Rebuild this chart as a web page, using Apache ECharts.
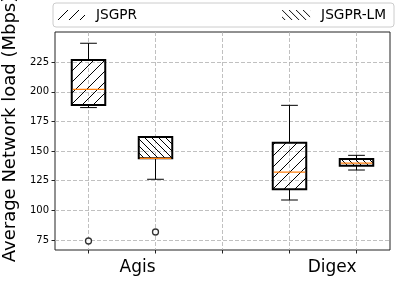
<!DOCTYPE html>
<html><head><meta charset="utf-8">
<script src="https://cdn.jsdelivr.net/npm/echarts@6/dist/echarts.min.js"></script>
<style>html,body{margin:0;padding:0;background:#fff}#c{width:400px;height:283px}</style>
</head><body><div id="c"></div>
<script>
const categories = ['Agis', 'Digex'];
const seriesNames = ['JSGPR', 'JSGPR-LM'];
// box statistics per category: [min, q1, median, q3, max]
const jsgprStats = [[186.7, 188.9, 202.1, 226.9, 241.0], [108.7, 117.7, 132.3, 157.1, 188.6]];
const lmStats = [[126.2, 143.9, 143.9, 161.8, 161.8], [134.0, 137.7, 139.9, 143.3, 146.4]];
// outliers per category
const jsgprOutliers = [[74.1], []];
const lmOutliers = [[81.7], []];
const yTicks = [75, 100, 125, 150, 175, 200, 225];
const xTicks = [1, 2, 3, 4, 5];

const FONT = 'DejaVu Sans';

function hatch(size, dir) {
  const c = document.createElement('canvas');
  c.width = size; c.height = size;
  const g = c.getContext('2d');
  g.strokeStyle = '#000'; g.lineWidth = 1;
  g.beginPath();
  if (dir > 0) {
    g.moveTo(0, size); g.lineTo(size, 0);
    g.moveTo(-1, 1); g.lineTo(1, -1);
    g.moveTo(size - 1, size + 1); g.lineTo(size + 1, size - 1);
  } else {
    g.moveTo(0, 0); g.lineTo(size, size);
    g.moveTo(-1, size - 1); g.lineTo(1, size + 1);
    g.moveTo(size - 1, -1); g.lineTo(size + 1, 1);
  }
  g.stroke();
  return { image: c, repeat: 'repeat' };
}
const patterns = [hatch(11, 1), hatch(7, -1)];

// x position for group i, series s
function xPos(i, s) { return 1 + 3 * i + s; }

function boxData(stats, s) { return stats.map((st, i) => [xPos(i, s)].concat(st)); }
function outlierData(outs, s) {
  const r = [];
  outs.forEach((arr, i) => arr.forEach(v => r.push([xPos(i, s), v])));
  return r;
}

function makeRender(pattern) {
  return function (params, api) {
    const x = api.value(0);
    const pMin = api.coord([x, api.value(1)]);
    const pQ1 = api.coord([x, api.value(2)]);
    const pMd = api.coord([x, api.value(3)]);
    const pQ3 = api.coord([x, api.value(4)]);
    const pMax = api.coord([x, api.value(5)]);
    const w = api.size([0.5, 0])[0];
    const cx = pMin[0];
    const ls = { stroke: '#000', lineWidth: 1 };
    return {
      type: 'group',
      children: [
        { type: 'line', shape: { x1: cx, y1: pMin[1], x2: cx, y2: pQ1[1] }, style: ls },
        { type: 'line', shape: { x1: cx, y1: pQ3[1], x2: cx, y2: pMax[1] }, style: ls },
        { type: 'line', shape: { x1: cx - w / 4, y1: pMin[1], x2: cx + w / 4, y2: pMin[1] }, style: ls },
        { type: 'line', shape: { x1: cx - w / 4, y1: pMax[1], x2: cx + w / 4, y2: pMax[1] }, style: ls },
        { type: 'rect', shape: { x: cx - w / 2, y: pQ3[1], width: w, height: pQ1[1] - pQ3[1] },
          style: { fill: pattern, stroke: '#000', lineWidth: 2 } },
        { type: 'line', shape: { x1: cx - w / 2 + 1, y1: pMd[1], x2: cx + w / 2 - 1, y2: pMd[1] },
          style: { stroke: '#ff7f0e', lineWidth: 1.2 } }
      ]
    };
  };
}

const chart = echarts.init(document.getElementById('c'), null, { renderer: 'canvas' });
chart.setOption({
  animation: false,
  backgroundColor: '#fff',
  grid: { left: 55, right: 10, top: 32, bottom: 33, show: true, borderColor: '#222', borderWidth: 1,
          containLabel: false, outerBoundsMode: 'none' },
  legend: {
    left: 53, top: 3, padding: [5, 8, 5, 4], itemGap: 145, itemWidth: 28, itemHeight: 10,
    borderColor: '#ccc', borderWidth: 1, borderRadius: 3, selectedMode: false,
    textStyle: { fontFamily: FONT, fontSize: 13.7, color: '#000', padding: [2, 0, 0, 6] },
    data: seriesNames.map((n, k) => ({ name: n, icon: 'rect', itemStyle: { color: patterns[k], borderWidth: 0 } }))
  },
  xAxis: {
    type: 'value', min: 0.5, max: 5.5,
    axisLine: { show: false },
    axisTick: { show: true, customValues: xTicks, length: 3.5, lineStyle: { color: '#222' } },
    axisLabel: {
      customValues: categories.map((c, i) => xPos(i, 1)),
      formatter: v => categories[Math.round((v - 2) / 3)] || '',
      align: 'right', fontFamily: FONT, fontSize: 17, color: '#000', margin: 9
    },
    splitLine: { show: true, lineStyle: { color: '#b0b0b0', type: [4, 2], width: 0.8 } }
  },
  yAxis: {
    type: 'value', min: 66.5, max: 250.5,
    name: 'Average Network load (Mbps)', nameLocation: 'middle', nameGap: 32,
    nameTextStyle: { fontFamily: FONT, fontSize: 18, color: '#000', padding: [0, 0, 0, 24] },
    axisLine: { show: false },
    axisTick: { show: true, customValues: yTicks, length: 3.5, lineStyle: { color: '#222' } },
    axisLabel: { customValues: yTicks, fontFamily: FONT, fontSize: 10, color: '#000', margin: 6 },
    splitLine: { show: true, lineStyle: { color: '#b0b0b0', type: [4, 2], width: 0.8 } }
  },
  series: [
    { name: seriesNames[0], type: 'custom', itemStyle: { color: patterns[0] },
      renderItem: makeRender(patterns[0]), encode: { x: 0, y: [1, 2, 3, 4, 5] }, data: boxData(jsgprStats, 0), z: 3 },
    { name: seriesNames[1], type: 'custom', itemStyle: { color: patterns[1] },
      renderItem: makeRender(patterns[1]), encode: { x: 0, y: [1, 2, 3, 4, 5] }, data: boxData(lmStats, 1), z: 3 },
    { name: 'out0', type: 'scatter', symbol: 'circle', symbolSize: 6,
      itemStyle: { color: '#fff', borderColor: '#000', borderWidth: 1.3 }, data: outlierData(jsgprOutliers, 0), z: 4 },
    { name: 'out1', type: 'scatter', symbol: 'circle', symbolSize: 6,
      itemStyle: { color: '#fff', borderColor: '#000', borderWidth: 1.3 }, data: outlierData(lmOutliers, 1), z: 4 }
  ]
});
</script></body></html>
